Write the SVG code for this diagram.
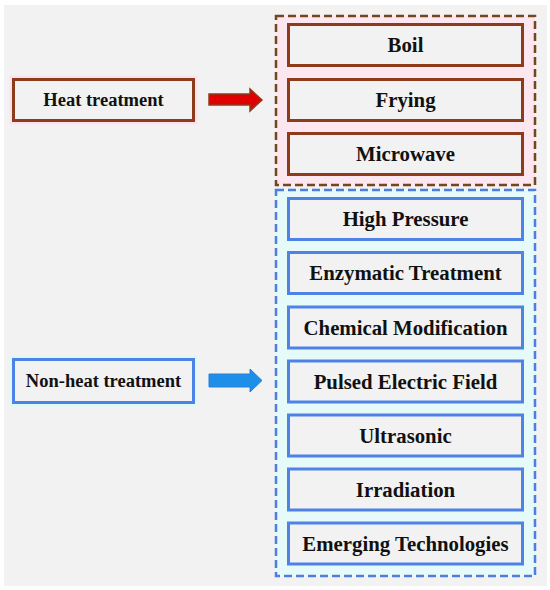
<svg xmlns="http://www.w3.org/2000/svg" width="550" height="590" viewBox="0 0 550 590">
  <style>
    .bg { fill: #f2f2f2; }
    .hbox { fill: #f2f2f2; stroke: #8e3b1c; stroke-width: 3; }
    .nbox { fill: #f2f2f2; stroke: #4f82e6; stroke-width: 3; }
    .hhalo { fill: none; stroke: #fbe2ed; stroke-width: 8; }
    .nhalo { fill: none; stroke: #dff9f9; stroke-width: 8; }
    .hgroup { fill: #fce6f0; stroke: #74461e; stroke-width: 2.5; stroke-dasharray: 8 4; }
    .ngroup { fill: #e6fafa; stroke: #4f7de0; stroke-width: 2.5; stroke-dasharray: 8 4; }
    .lbl { font-family: "Liberation Serif", "DejaVu Serif", serif; font-weight: bold; font-size: 18.5px; fill: #111111; text-anchor: middle; }
    .rl { font-size: 20.8px; }
  </style>
  <rect x="0" y="0" width="550" height="590" fill="#ffffff"/>
  <rect class="bg" x="4" y="5" width="543" height="581"/>

  <g id="group-heat">
    <rect class="hgroup" x="276" y="16" width="259" height="169"/>
  </g>
  <g id="group-nonheat">
    <rect class="ngroup" x="276" y="190" width="259" height="386"/>
  </g>

  <g id="heat-treatment">
    <rect class="hhalo" x="13.5" y="79.5" width="180" height="41"/>
    <rect class="hbox" x="13.5" y="79.5" width="180" height="41"/>
    <text class="lbl" x="103.5" y="106">Heat treatment</text>
  </g>
  <g id="non-heat-treatment">
    <rect class="nhalo" x="13.5" y="359.5" width="180" height="43"/>
    <rect class="nbox" x="13.5" y="359.5" width="180" height="43"/>
    <text class="lbl" x="103.5" y="387">Non-heat treatment</text>
  </g>

  <g id="connectors">
    <path d="M209 94 H250 V89 L262 100 L250 111 V105 H209 Z" fill="#e00000" stroke="#8e3b1c" stroke-width="1.5" stroke-linejoin="miter"/>
    <path d="M209 374 H250 V369 L262 380.5 L250 392 V387 H209 Z" fill="#1e8fe8" stroke="#2a7fd8" stroke-width="1"/>
  </g>

  <g id="boil">
    <rect class="hbox" x="288.5" y="24.5" width="234" height="41"/>
    <text class="lbl rl" x="405.5" y="52">Boil</text>
  </g>
  <g id="frying">
    <rect class="hbox" x="288.5" y="79.5" width="234" height="41"/>
    <text class="lbl rl" x="405.5" y="107">Frying</text>
  </g>
  <g id="microwave">
    <rect class="hbox" x="288.5" y="133.5" width="234" height="41"/>
    <text class="lbl rl" x="405.5" y="161">Microwave</text>
  </g>

  <g id="high-pressure">
    <rect class="nbox" x="288.5" y="198.5" width="234" height="41"/>
    <text class="lbl rl" x="405.5" y="226">High Pressure</text>
  </g>
  <g id="enzymatic-treatment">
    <rect class="nbox" x="288.5" y="252.5" width="234" height="41"/>
    <text class="lbl rl" x="405.5" y="280">Enzymatic Treatment</text>
  </g>
  <g id="chemical-modification">
    <rect class="nbox" x="288.5" y="307" width="234" height="41"/>
    <text class="lbl rl" x="405.5" y="334.5">Chemical Modification</text>
  </g>
  <g id="pulsed-electric-field">
    <rect class="nbox" x="288.5" y="361" width="234" height="41"/>
    <text class="lbl rl" x="405.5" y="388.5">Pulsed Electric Field</text>
  </g>
  <g id="ultrasonic">
    <rect class="nbox" x="288.5" y="415" width="234" height="41"/>
    <text class="lbl rl" x="405.5" y="442.5">Ultrasonic</text>
  </g>
  <g id="irradiation">
    <rect class="nbox" x="288.5" y="469" width="234" height="41"/>
    <text class="lbl rl" x="405.5" y="496.5">Irradiation</text>
  </g>
  <g id="emerging-technologies">
    <rect class="nbox" x="288.5" y="523" width="234" height="41"/>
    <text class="lbl rl" x="405.5" y="550.5">Emerging Technologies</text>
  </g>
</svg>
